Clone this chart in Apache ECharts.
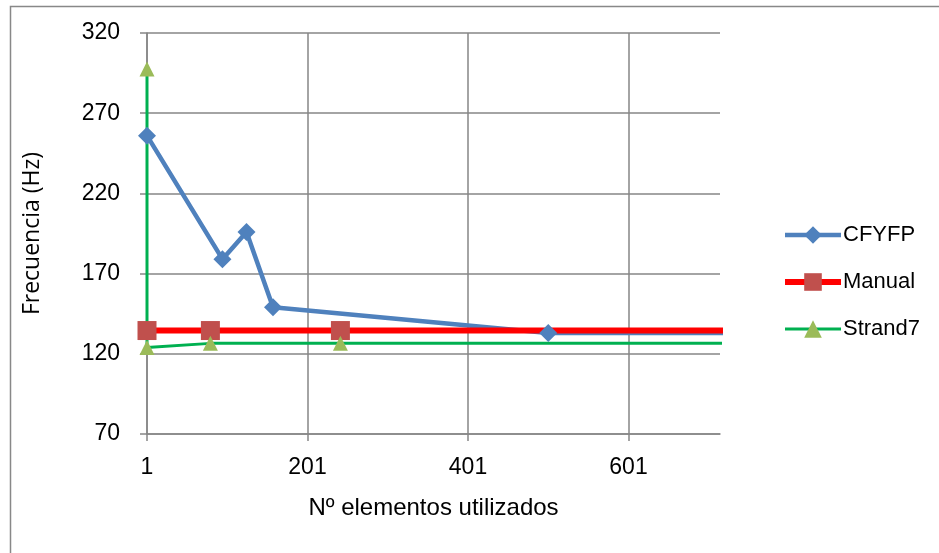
<!DOCTYPE html>
<html>
<head>
<meta charset="utf-8">
<script src="https://cdn.jsdelivr.net/npm/echarts@6/dist/echarts.min.js"></script>
<style>html,body{margin:0;padding:0;background:#fff}#c{width:939px;height:553px}</style>
</head>
<body>
<div id="c"></div>
<script>
// ---- data ----
const cfyfpX = [1, 95, 125, 158, 501, 1001];
const cfyfpY = [256, 179, 196, 149, 133, 133];
const manualX = [1, 80, 242, 1001];
const manualY = [134.5, 134.5, 134.5, 134.5];
const strandX = [1, 1, 80, 242, 1001];
const strandY = [297.5, 124, 126.5, 126.5, 126.5];
const xTicks = [1, 201, 401, 601];
const yTicks = [70, 120, 170, 220, 270, 320];
const seriesNames = ['CFYFP', 'Manual', 'Strand7'];
const xTitle = 'Nº elementos utilizados';
const yTitle = 'Frecuencia (Hz)';

const pairs = (xs, ys) => xs.map((x, i) => [x, ys[i]]);
const grid = '#868686';
const font = 'Liberation Sans';
const lineW = [4.5, 6, 3];

const chart = echarts.init(document.getElementById('c'), null, {renderer: 'canvas'});
chart.setOption({
  animation: false,
  backgroundColor: '#fff',
  graphic: [{
    type: 'rect', left: 8, top: 4, z: -1,
    shape: {width: 940, height: 560},
    style: {fill: 'none', stroke: '#888', lineWidth: 1.5}
  }],
  grid: {left: 147, right: 219, top: 33, bottom: 119, containLabel: false},
  legend: {
    orient: 'vertical', left: 777, top: 219,
    itemWidth: 56, itemHeight: 22, itemGap: 25,
    data: seriesNames.map((n, i) => ({name: n, lineStyle: {width: lineW[i]}})),
    textStyle: {fontFamily: font, fontSize: 22, color: '#000', lineHeight: 22, padding: [0,0,0,-3]}
  },
  xAxis: {
    type: 'value', min: 1, max: 715,
    name: xTitle, nameLocation: 'middle', nameGap: 62,
    nameTextStyle: {fontFamily: font, fontSize: 24, color: '#000'},
    axisLine: {show: true, lineStyle: {color: grid, width: 1.5}},
    axisTick: {show: true, length: 7, customValues: xTicks, lineStyle: {color: grid, width: 1.5}},
    axisLabel: {customValues: xTicks, fontFamily: font, fontSize: 23, color: '#000', margin: 22},
    splitLine: {show: true, lineStyle: {color: grid, width: 1.5}}
  },
  yAxis: {
    type: 'value', min: 70, max: 320, interval: 50,
    name: yTitle, nameLocation: 'middle', nameGap: 103,
    nameTextStyle: {fontFamily: 'Open Sans', fontSize: 23, color: '#000'},
    axisLine: {show: true, lineStyle: {color: grid, width: 1.5}},
    axisTick: {show: true, length: 7, customValues: yTicks, lineStyle: {color: grid, width: 1.5}},
    axisLabel: {customValues: yTicks, fontFamily: font, fontSize: 23, color: '#000', margin: 27},
    splitLine: {show: true, lineStyle: {color: grid, width: 1.5}}
  },
  series: [
    {
      name: seriesNames[0], type: 'line', data: pairs(cfyfpX, cfyfpY),
      symbol: 'diamond', symbolSize: 18,
      lineStyle: {color: '#4F81BD', width: lineW[0]},
      itemStyle: {color: '#4F81BD'},
      clip: true
    },
    {
      name: seriesNames[1], type: 'line', data: pairs(manualX, manualY),
      symbol: 'rect', symbolSize: 19,
      lineStyle: {color: '#FF0000', width: lineW[1]},
      itemStyle: {color: '#C0504D'},
      clip: true
    },
    {
      name: seriesNames[2], type: 'line', data: pairs(strandX, strandY),
      symbol: 'triangle', symbolSize: [15, 15],
      lineStyle: {color: '#00B050', width: lineW[2]},
      itemStyle: {color: '#9BBB59'},
      clip: true
    }
  ]
});
</script>
</body>
</html>
